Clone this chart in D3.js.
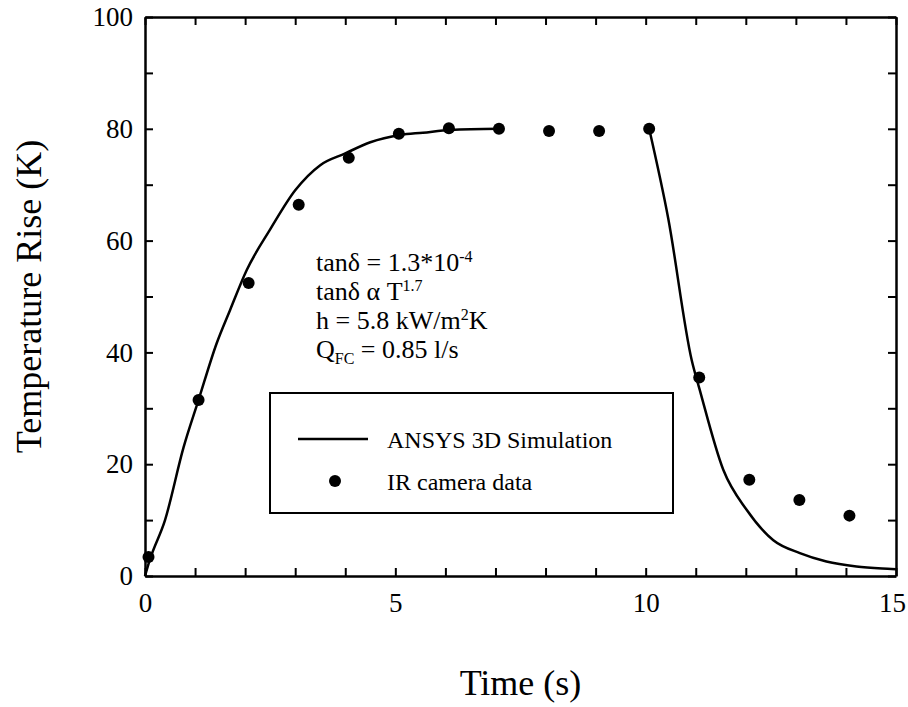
<!DOCTYPE html>
<html>
<head>
<meta charset="utf-8">
<script src="https://cdnjs.cloudflare.com/ajax/libs/d3/7.8.5/d3.min.js"></script>
<style>
  body { margin: 0; background: #fff; }
  text { font-family: "Liberation Serif", "DejaVu Serif", serif; fill: #000; }
</style>
</head>
<body>
<div id="chart"></div>
<script>
// ANSYS simulation, heating part and cooling part (no line between them)
const heatTime = [0, 0.1, 0.4, 0.77, 1.07, 1.43, 1.7, 2.03, 2.5, 3.0, 3.5, 4.0, 4.5, 5.1, 5.55, 6.1, 7.07];
const heatTemp = [0, 3, 10, 23, 31.5, 41.6, 47.6, 54.7, 62, 69, 73.5, 75.6, 77.6, 78.9, 79.3, 79.8, 80];
const coolTime = [10.07, 10.45, 10.92, 11.08, 11.55, 12.02, 12.55, 13.08, 13.61, 14.21, 14.91, 15];
const coolTemp = [80, 64, 38.6, 33.3, 19, 11.8, 6.4, 4.1, 2.6, 1.7, 1.25, 1.2];
// IR camera measurements
const irTime = [0.07, 1.07, 2.07, 3.07, 4.07, 5.07, 6.07, 7.07, 8.07, 9.07, 10.07, 11.07, 12.07, 13.07, 14.07];
const irTemp = [3.4, 31.5, 52.4, 66.4, 74.8, 79.1, 80.1, 80.0, 79.6, 79.6, 80.0, 35.5, 17.2, 13.6, 10.8];
const xTickLabels = [0, 5, 10, 15];
const yTickLabels = [0, 20, 40, 60, 80, 100];

const width = 908, height = 707;
const margin = {left: 145, top: 17, right: 12, bottom: 131};
const w = width - margin.left - margin.right, h = height - margin.top - margin.bottom;

const svg = d3.select("#chart").append("svg")
    .attr("width", width)
    .attr("height", height);

const g = svg.append("g").attr("transform", "translate(" + margin.left + "," + margin.top + ")");

const x = d3.scaleLinear().domain([0, 15]).range([0, w]);
const y = d3.scaleLinear().domain([0, 100]).range([h, 0]);

const tickLen = 8;
const fmt = function(d) { return xTickLabels.includes(d) ? d : ""; };
const fmtY = function(d) { return yTickLabels.includes(d) ? d : ""; };

// bottom + top axes, ticks inward
const xb = g.append("g").attr("transform", "translate(0," + h + ")")
    .call(d3.axisBottom(x).tickValues(d3.range(0, 16)).tickSizeInner(-tickLen).tickSizeOuter(0).tickFormat(fmt).tickPadding(17));
const xt = g.append("g")
    .call(d3.axisTop(x).tickValues(d3.range(0, 16)).tickSizeInner(-tickLen).tickSizeOuter(0).tickFormat(""));
const yl = g.append("g")
    .call(d3.axisLeft(y).tickValues(d3.range(0, 101, 10)).tickSizeInner(-tickLen).tickSizeOuter(0).tickFormat(fmtY).tickPadding(12));
const yr = g.append("g").attr("transform", "translate(" + w + ",0)")
    .call(d3.axisRight(y).tickValues(d3.range(0, 101, 10)).tickSizeInner(-tickLen).tickSizeOuter(0).tickFormat(""));

[xb, xt, yl, yr].forEach(function(a) {
    a.selectAll(".domain").attr("stroke", "#000").attr("stroke-width", 2.5);
    a.selectAll(".tick line").attr("stroke", "#000").attr("stroke-width", 2);
    a.selectAll(".tick text").style("font-family", "Liberation Serif").style("font-size", "27px").attr("fill", "#000");
});
// keep the last x label inside the page
xb.selectAll(".tick text").filter(function(d) { return d === 15; }).attr("dx", -4);

// axis titles
svg.append("text")
    .attr("transform", "translate(41," + (margin.top + h / 2) + ") rotate(-90)")
    .attr("text-anchor", "middle")
    .style("font-size", "36px")
    .text("Temperature Rise (K)");

svg.append("text")
    .attr("x", margin.left + w / 2)
    .attr("y", 695)
    .attr("text-anchor", "middle")
    .style("font-size", "36px")
    .text("Time (s)");

// simulation line
const line = d3.line()
    .curve(d3.curveMonotoneX)
    .x(function(d) { return x(d[0]); })
    .y(function(d) { return y(d[1]); });

[d3.zip(heatTime, heatTemp), d3.zip(coolTime, coolTemp)].forEach(function(seg) {
    g.append("path")
        .datum(seg)
        .attr("d", line)
        .attr("fill", "none")
        .attr("stroke", "#000")
        .attr("stroke-width", 2.5);
});

// IR dots
g.selectAll(".dot")
    .data(d3.zip(irTime, irTemp))
    .enter().append("circle")
    .attr("class", "dot")
    .attr("cx", function(d) { return x(d[0]); })
    .attr("cy", function(d) { return y(d[1]); })
    .attr("r", 6)
    .attr("fill", "#000");

// annotation
const ann = svg.append("g").style("font-size", "26px");
const tx = 316;
let t = ann.append("text").attr("x", tx).attr("y", 271);
t.append("tspan").text("tanδ = 1.3*10");
t.append("tspan").attr("dy", -9).style("font-size", "16px").text("-4");

t = ann.append("text").attr("x", tx).attr("y", 300);
t.append("tspan").text("tanδ α T");
t.append("tspan").attr("dy", -9).style("font-size", "16px").text("1.7");

t = ann.append("text").attr("x", tx).attr("y", 329);
t.append("tspan").text("h = 5.8 kW/m");
t.append("tspan").attr("dy", -9).style("font-size", "16px").text("2");
t.append("tspan").attr("dy", 9).text("K");

t = ann.append("text").attr("x", tx).attr("y", 358);
t.append("tspan").text("Q");
t.append("tspan").attr("dy", 6).style("font-size", "16px").text("FC");
t.append("tspan").attr("dy", -6).text(" = 0.85 l/s");

// legend
const leg = svg.append("g");
leg.append("rect")
    .attr("x", 270).attr("y", 393)
    .attr("width", 403).attr("height", 120)
    .attr("fill", "none").attr("stroke", "#000").attr("stroke-width", 2);
leg.append("line")
    .attr("x1", 298).attr("x2", 368).attr("y1", 439).attr("y2", 439)
    .attr("stroke", "#000").attr("stroke-width", 2.5);
leg.append("circle").attr("cx", 335).attr("cy", 481).attr("r", 6).attr("fill", "#000");
leg.append("text").attr("x", 387).attr("y", 448).style("font-size", "24px").text("ANSYS 3D Simulation");
leg.append("text").attr("x", 387).attr("y", 490).style("font-size", "24px").text("IR camera data");
</script>
</body>
</html>
